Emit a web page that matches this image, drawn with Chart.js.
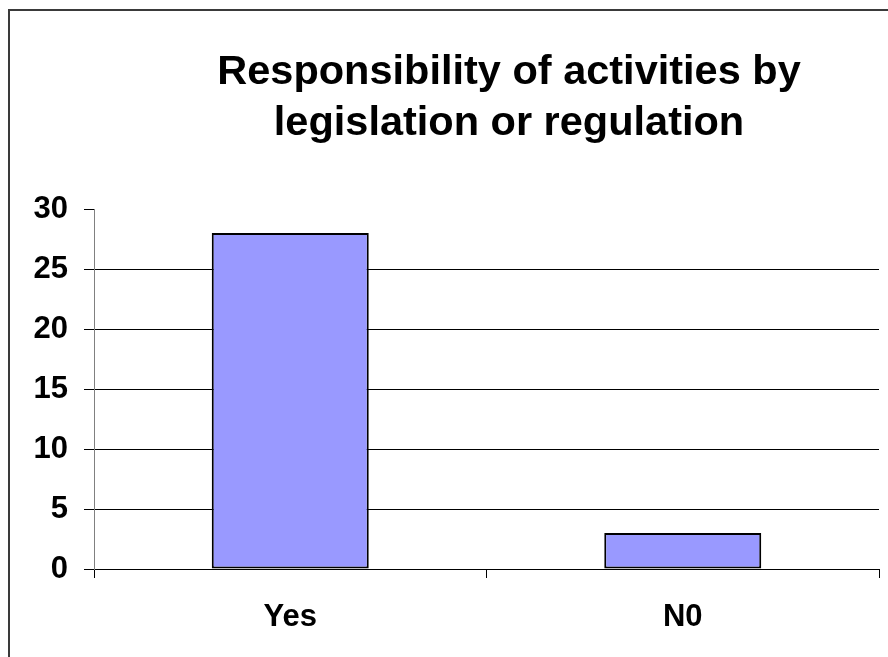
<!DOCTYPE html>
<html>
<head>
<meta charset="utf-8">
<script src="https://cdn.jsdelivr.net/npm/chart.js@4"></script>
<style>
  html, body { margin: 0; padding: 0; background: #fff; }
  #wrap { position: relative; width: 888px; height: 657px; }
</style>
</head>
<body>
<div id="wrap"><canvas id="c" width="888" height="657"></canvas></div>
<script>
const titleLines = ['Responsibility of activities by', 'legislation or regulation'];
const categories = ['Yes', 'N0'];
const values = [28, 3];
const yMin = 0, yMax = 30, yStep = 5;

const FONT = '"Liberation Sans", Arial, sans-serif';

const framePlugin = {
  id: 'frame',
  beforeDraw(chart) {
    const ctx = chart.ctx;
    ctx.save();
    ctx.fillStyle = '#fff';
    ctx.fillRect(0, 0, chart.width, chart.height);
    ctx.strokeStyle = '#3a3a3a';
    ctx.lineWidth = 2;
    ctx.beginPath();
    ctx.moveTo(9, chart.height + 2);
    ctx.lineTo(9, 10);
    ctx.lineTo(chart.width + 2, 10);
    ctx.stroke();
    ctx.restore();
  },
  afterDraw(chart) {
    const ctx = chart.ctx;
    ctx.save();
    ctx.fillStyle = '#000';
    ctx.font = 'bold 41.5px ' + FONT;
    ctx.textAlign = 'center';
    ctx.textBaseline = 'alphabetic';
    ctx.fillText(titleLines[0], 509, 84);
    ctx.fillText(titleLines[1], 509, 135);
    ctx.restore();
  }
};

new Chart(document.getElementById('c'), {
  type: 'bar',
  data: {
    labels: categories,
    datasets: [{
      data: values,
      backgroundColor: '#9999FF',
      borderColor: '#000',
      borderWidth: 2,
      borderSkipped: false,
      barPercentage: 0.4,
      categoryPercentage: 1.0
    }]
  },
  options: {
    responsive: false,
    animation: false,
    devicePixelRatio: 1,
    layout: { padding: { top: 209, right: 9, left: 0, bottom: 0 } },
    plugins: { legend: { display: false }, title: { display: false }, tooltip: { enabled: false } },
    scales: {
      x: {
        offset: true,
        grid: { offset: true, drawOnChartArea: false, tickLength: 9, color: '#000', tickColor: '#000' },
        border: { color: '#000', width: 1 },
        ticks: { color: '#000', font: { family: FONT, size: 31, weight: 'bold' }, padding: 21 },
        afterFit(s) { s.height = 88; }
      },
      y: {
        min: yMin, max: yMax,
        grid: {
          color: (c) => (c.tick && c.tick.value === yMax) ? 'rgba(0,0,0,0)' : '#000',
          tickColor: '#000',
          tickLength: 10,
          lineWidth: 1
        },
        border: { color: '#808080', width: 1 },
        ticks: { stepSize: yStep, color: '#000', font: { family: FONT, size: 31, weight: 'bold' }, padding: 16 },
        afterFit(s) { s.width = 94; }
      }
    }
  },
  plugins: [framePlugin]
});
</script>
</body>
</html>
